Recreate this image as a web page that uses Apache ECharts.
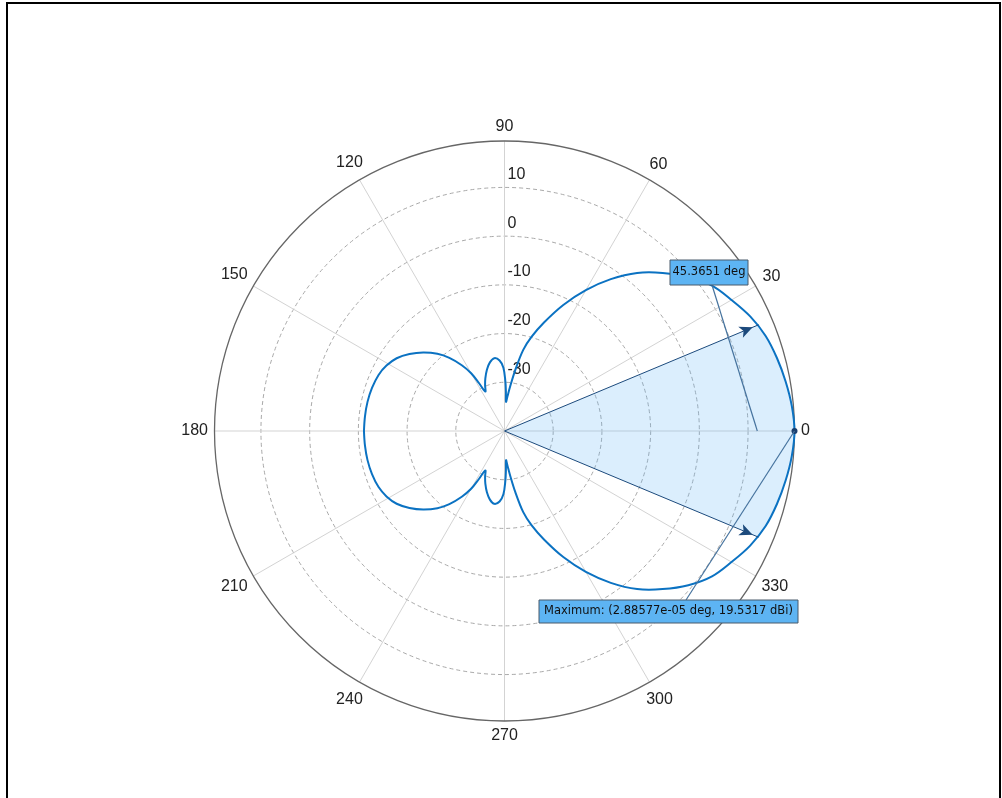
<!DOCTYPE html>
<html>
<head>
<meta charset="utf-8">
<script src="https://cdn.jsdelivr.net/npm/echarts@6/dist/echarts.min.js"></script>
<style>
  html, body { margin: 0; padding: 0; background: #ffffff; }
  #chart { width: 1002px; height: 798px; }
</style>
</head>
<body>
<div id="chart"></div>
<script>
// Azimuth cut of the antenna directivity (angle in deg, gain in dBi)
const patternAngle = [
  -180, -174, -168, -162, -156, -151, -146, -141, -136, -131, -127, -123, -120, -118, -116,
  -113, -110, -106, -102, -98, -94, -91, -89, -88, -87, -85, -83, -80, -77, -74, -70, -65,
  -60, -55, -50, -45, -40, -35, -30, -25, -20, -15, -10, -5,
  0,
  5, 10, 15, 20, 25, 30, 35, 40, 45, 50, 55, 60, 65, 70, 74, 77, 80, 83, 85, 87, 88, 89,
  91, 94, 98, 102, 106, 110, 113, 116, 118, 120, 123, 127, 131, 136, 141, 146, 151, 156,
  162, 168, 174, 180
];
const patternGain = [
  -11.15, -11.2, -11.25, -11.4, -11.7, -12.3, -13.3, -14.9, -16.8, -19.0, -21.2, -23.9, -26.3, -28.9, -31.0,
  -29.8, -28.5, -26.9, -25.6, -24.9, -25.5, -27.0, -29.8, -31.8, -34.0, -32.8, -31.0, -27.3, -22.9, -19.9, -16.3, -11.45,
  -6.6, -1.95, 2.35, 5.9, 9.25, 12.0, 13.8, 15.65, 17.05, 17.9, 18.6, 19.2,
  19.5317,
  19.2, 18.6, 17.9, 17.05, 15.65, 13.8, 12.0, 9.25, 5.9, 2.35, -1.95, -6.6, -11.45, -16.3, -19.9, -22.9, -27.3, -31.0, -32.8, -34.0, -31.8, -29.8,
  -27.0, -25.5, -24.9, -25.6, -26.9, -28.5, -29.8, -31.0, -28.9, -26.3, -23.9, -21.2, -19.0, -16.8, -14.9, -13.3, -12.3, -11.7,
  -11.4, -11.25, -11.2, -11.15
];

// Half-power beam span (shaded sector)
const beamAngle = [-22.68255, -20, -15, -10, -5, 0, 5, 10, 15, 20, 22.68255];
const beamGain  = [16.5317, 17.05, 17.9, 18.6, 19.2, 19.5317, 19.2, 18.6, 17.9, 17.05, 16.5317];
const beamWidthDeg = 45.3651;
const beamEdgeGain = 16.5317;

// Peak marker
const peakAngle = 2.88577e-05;
const peakGain = 19.5317;

// Anchor of the beam-width note on the boresight line
const beamNoteAnchor = [11.9, 0];

// Axes
const angleTicks = [0, 30, 60, 90, 120, 150, 180, 210, 240, 270, 300, 330];
const angleTickLabels = ['0', '30', '60', '90', '120', '150', '180', '210', '240', '270', '300', '330'];
const radialTickLabels = [10, 0, -10, -20, -30];
const radialMin = -40;
const radialMax = 19.5317;
const radialStep = 10;

const chart = echarts.init(document.getElementById('chart'), null, { renderer: 'canvas' });

const labelFontFamily = 'Liberation Sans, Arial, sans-serif';
const labelFontSize = 16;
const noteFont = 'DejaVu Sans, Verdana, sans-serif';
const curveColor = '#0b72c2';
const arrowColor = '#1c4a7c';

// text width helper for placing the angle labels just outside the rim
const measureCtx = document.createElement('canvas').getContext('2d');
measureCtx.font = labelFontSize + 'px ' + labelFontFamily;
function textWidth(s) { return measureCtx.measureText(s).width; }

function arrowItem(angle, gain) {
  const h = 13;
  const rad = angle * Math.PI / 180;
  return {
    value: [gain, angle],
    symbol: 'arrow',
    symbolSize: [9, h],
    symbolRotate: angle - 90,
    symbolOffset: [-h / 2 * Math.cos(rad), h / 2 * Math.sin(rad)]
  };
}

const nRadial = Math.floor((radialMax - radialMin) / radialStep) + 2;
const ringColors = [];
for (let i = 0; i < nRadial; i++) {
  ringColors.push(i === 0 || i === nRadial - 1 ? 'rgba(0,0,0,0)' : '#a9a9a9');
}

function formatExp(v) {
  return v.toExponential(5).replace(/e([+-])(\d)$/, 'e$10$2');
}

chart.setOption({
  backgroundColor: '#ffffff',
  animation: false,
  polar: { center: [504.5, 431], radius: 290 },
  angleAxis: {
    type: 'value', min: 0, max: 360, interval: 30,
    startAngle: 0, clockwise: false,
    axisLine: { show: true, lineStyle: { color: '#666666', width: 1.3 } },
    axisTick: { show: false },
    axisLabel: { show: false },
    splitLine: { show: true, lineStyle: { color: '#d3d3d3', width: 1 } }
  },
  radiusAxis: {
    type: 'value', min: radialMin, max: radialMax, interval: radialStep,
    axisLine: { show: false }, axisTick: { show: false }, axisLabel: { show: false },
    splitLine: { show: true, lineStyle: { color: ringColors, width: 1, type: [4, 3] } }
  },
  series: [
    {
      // beam span fill
      type: 'line', coordinateSystem: 'polar', clip: false, z: 1,
      data: beamAngle.map((a, i) => [beamGain[i], a]),
      smooth: false, symbol: 'none',
      lineStyle: { width: 0, opacity: 0 },
      areaStyle: { origin: 'start', color: 'rgb(100,180,245)', opacity: 0.23 }
    },
    {
      // directivity pattern, drawn as one smoothed polyline
      type: 'custom', coordinateSystem: 'polar', z: 3, silent: true,
      data: patternAngle.map((a, i) => [patternGain[i], a]),
      renderItem: (params, api) => {
        if (params.dataIndex !== 0) return null;
        const pts = patternAngle.map((a, i) => api.coord([patternGain[i], a]));
        return {
          type: 'polyline',
          shape: { points: pts, smooth: 0.35 },
          style: { stroke: curveColor, lineWidth: 2, fill: 'none' }
        };
      }
    },
    {
      type: 'line', coordinateSystem: 'polar', clip: false, z: 4,
      data: [{ value: [radialMin, beamWidthDeg / 2], symbol: 'none' }, arrowItem(beamWidthDeg / 2, beamEdgeGain)],
      lineStyle: { color: arrowColor, width: 1 }, itemStyle: { color: arrowColor }
    },
    {
      type: 'line', coordinateSystem: 'polar', clip: false, z: 4,
      data: [{ value: [radialMin, -beamWidthDeg / 2], symbol: 'none' }, arrowItem(-beamWidthDeg / 2, beamEdgeGain)],
      lineStyle: { color: arrowColor, width: 1 }, itemStyle: { color: arrowColor }
    },
    {
      // peak marker
      type: 'scatter', coordinateSystem: 'polar', z: 5,
      data: [[peakGain, peakAngle]],
      symbol: 'circle', symbolSize: 6,
      itemStyle: { color: '#1a3f6f', opacity: 1 }
    },
    {
      // radial tick labels along the 90 degree spoke
      type: 'scatter', coordinateSystem: 'polar', z: 2, silent: true,
      data: radialTickLabels.map(v => [v, 90]),
      symbolSize: 0,
      itemStyle: { opacity: 1 },
      label: {
        show: true, position: 'right', distance: 3, offset: [0, -13],
        color: '#222222', fontSize: labelFontSize, fontFamily: labelFontFamily,
        formatter: p => String(p.value[0])
      }
    },
    {
      // angle tick labels, nearest edge kept a small gap outside the rim
      type: 'custom', coordinateSystem: 'polar', z: 2, silent: true,
      data: angleTicks.map(a => [radialMax, a]),
      renderItem: (params, api) => {
        const a = api.value(1);
        const text = angleTickLabels[params.dataIndex];
        const rim = api.coord([radialMax, a]);
        const ctr = api.coord([radialMin, a]);
        const dx = rim[0] - ctr[0], dy = rim[1] - ctr[1];
        const len = Math.sqrt(dx * dx + dy * dy) || 1;
        const ux = dx / len, uy = dy / len;
        const gap = 6.5;
        const push = gap + Math.abs(ux) * textWidth(text) / 2 + Math.abs(uy) * labelFontSize / 2;
        return {
          type: 'text',
          x: rim[0] + ux * push,
          y: rim[1] + uy * push,
          style: {
            text: text, fill: '#222222', fontSize: labelFontSize, fontFamily: labelFontFamily,
            align: 'center', verticalAlign: 'middle'
          }
        };
      }
    }
  ]
});

// Annotation notes with leader lines
function px(pt) {
  return chart.convertToPixel({ seriesIndex: 4 }, pt);
}
const peakPx = px([peakGain, peakAngle]);
const notePx = px(beamNoteAnchor);

const beamBox = { x: 670, y: 260, w: 78, h: 25 };
const peakBox = { x: 539, y: 600, w: 259, h: 23 };
const noteFill = '#5db4f3';
const noteStroke = '#4a5a6a';
const leaderColor = '#46739e';

chart.setOption({
  graphic: [
    {
      type: 'rect', silent: true, z: 100,
      shape: { x: 7, y: 3, width: 993, height: 800 },
      style: { fill: 'none', stroke: '#000000', lineWidth: 2 }
    },
    {
      type: 'line', silent: true, z: 90,
      shape: { x1: beamBox.x + 42, y1: beamBox.y + beamBox.h, x2: notePx[0], y2: notePx[1] },
      style: { stroke: leaderColor, lineWidth: 1.2 }
    },
    {
      type: 'line', silent: true, z: 90,
      shape: { x1: peakBox.x + 147, y1: peakBox.y, x2: peakPx[0], y2: peakPx[1] },
      style: { stroke: leaderColor, lineWidth: 1.2 }
    },
    {
      type: 'rect', silent: true, z: 95,
      shape: { x: beamBox.x, y: beamBox.y, width: beamBox.w, height: beamBox.h },
      style: { fill: noteFill, stroke: noteStroke, lineWidth: 1 }
    },
    {
      type: 'text', silent: true, z: 96,
      x: beamBox.x + beamBox.w / 2, y: beamBox.y + beamBox.h / 2,
      style: {
        text: beamWidthDeg + ' deg', fill: '#111111', fontSize: 11.5, fontFamily: noteFont,
        align: 'center', verticalAlign: 'middle'
      }
    },
    {
      type: 'rect', silent: true, z: 95,
      shape: { x: peakBox.x, y: peakBox.y, width: peakBox.w, height: peakBox.h },
      style: { fill: noteFill, stroke: noteStroke, lineWidth: 1 }
    },
    {
      type: 'text', silent: true, z: 96,
      x: peakBox.x + peakBox.w / 2, y: peakBox.y + peakBox.h / 2,
      style: {
        text: 'Maximum: (' + formatExp(peakAngle) + ' deg, ' + peakGain + ' dBi)',
        fill: '#111111', fontSize: 11.5, fontFamily: noteFont,
        align: 'center', verticalAlign: 'middle'
      }
    }
  ]
});
</script>
</body>
</html>
